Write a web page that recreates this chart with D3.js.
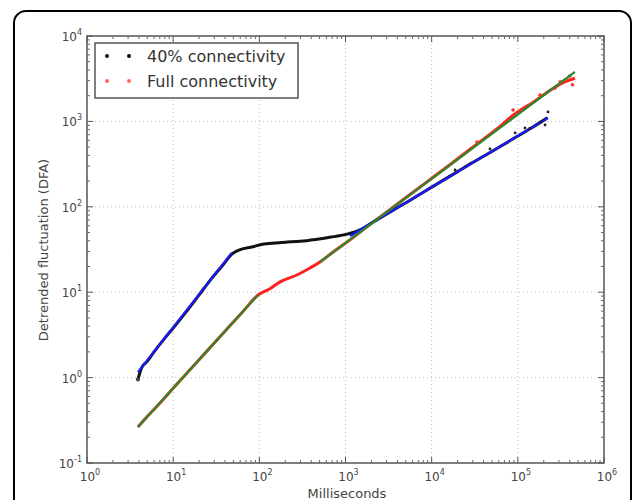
<!DOCTYPE html>
<html>
<head>
<meta charset="utf-8">
<script src="https://cdn.jsdelivr.net/npm/d3@7"></script>
<style>
  body { margin: 0; background: #fff; }
  svg { display: block; font-family: "DejaVu Sans", sans-serif; }
</style>
</head>
<body>
<svg id="chart" width="633" height="500"></svg>
<script>
// 40% connectivity (black dots)
const x40 = [3.9, 4.3, 5, 6, 8, 10, 14, 20, 28, 38, 48, 60, 84, 102, 140, 200, 300, 450, 661, 1013, 1500, 2030, 3500, 6000, 1e4, 2e4, 2.8e4, 4e4, 8e4, 1.5e5, 2.2e5];
const y40 = [0.95, 1.3, 1.55, 2.0, 2.9, 3.8, 5.8, 9.3, 14.5, 21, 28, 31.5, 34, 36, 37.5, 38.5, 39.5, 41.5, 44, 47.5, 54, 65, 90, 124, 170, 258, 318, 390, 590, 860, 1100];
// scattered dots of the 40% series that stick out of the fit
const x40Tail = [1.87e4, 4.75e4, 9.3e4, 1.21e5, 1.38e5, 1.86e5, 2.07e5, 2.24e5];
const y40Tail = [270, 475, 733, 837, 835, 985, 907, 1290];

// full connectivity (red dots)
const xFull = [3.9, 5, 7, 10, 15, 20, 30, 45, 65, 96, 133, 174, 273, 387, 506, 700, 1127, 2000, 4000, 8000, 1.5e4, 3e4, 6e4, 8.8e4, 1.6e5, 2.5e5, 3.5e5, 4.6e5];
const yFull = [0.264, 0.35, 0.5, 0.75, 1.18, 1.62, 2.55, 4.0, 6.0, 9.2, 11.0, 13.2, 15.9, 19.2, 22.6, 29, 41, 64, 108, 182, 292, 500, 850, 1180, 1750, 2400, 2900, 3200];
const xFullTail = [3.36e4, 8.8e4, 1.81e5, 2.7e5, 3.1e5, 3.5e5, 4.0e5, 4.3e5];
const yFullTail = [573, 1360, 2030, 2455, 2900, 3050, 3400, 2690];

// fitted segments
const blueFits = [
  [[3.9, 1.16], [48, 29]],
  [[1127, 45.5], [2.24e5, 1100]]
];
const greenFits = [
  [[3.9, 0.264], [96.5, 9.27]],
  [[506, 22.6], [4.6e5, 3790]]
];

const xTicks = [1, 10, 100, 1e3, 1e4, 1e5, 1e6];
const yTicks = [0.1, 1, 10, 100, 1e3, 1e4];
const legendLabels = ["40% connectivity", "Full connectivity"];
const legendColors = ["#111", "#f66"];

const svg = d3.select("#chart");

// outer rounded frame
svg.append("rect")
  .attr("x", 14).attr("y", 11)
  .attr("width", 617).attr("height", 530)
  .attr("rx", 12)
  .attr("fill", "none")
  .attr("stroke", "#000")
  .attr("stroke-width", 2);

const x = d3.scaleLog().domain([1, 1e6]).range([87, 604]);
const y = d3.scaleLog().domain([0.1, 1e4]).range([463, 36]);

// grid
const grid = svg.append("g");
xTicks.slice(1, -1).forEach(t => {
  grid.append("line")
    .attr("x1", x(t)).attr("x2", x(t)).attr("y1", 36).attr("y2", 463)
    .attr("stroke", "#bbb").attr("stroke-width", 1).attr("stroke-dasharray", "1,3");
});
yTicks.slice(1, -1).forEach(t => {
  grid.append("line")
    .attr("x1", 87).attr("x2", 604).attr("y1", y(t)).attr("y2", y(t))
    .attr("stroke", "#bbb").attr("stroke-width", 1).attr("stroke-dasharray", "1,3");
});

// data curves (dense dots render as a thick line)
const line = d3.line().x(d => x(d[0])).y(d => y(d[1])).curve(d3.curveMonotoneX);

const d40 = x40.map((v, i) => [v, y40[i]]);
const dFull = xFull.map((v, i) => [v, yFull[i]]);

svg.append("path").datum(dFull)
  .attr("d", line).attr("fill", "none")
  .attr("stroke", "#f22").attr("stroke-width", 3);
svg.append("path").datum(d40)
  .attr("d", line).attr("fill", "none")
  .attr("stroke", "#111").attr("stroke-width", 3);

svg.selectAll(".tailFull")
  .data(xFullTail.map((v, i) => [v, yFullTail[i]]))
  .enter().append("circle")
  .attr("cx", d => x(d[0])).attr("cy", d => y(d[1]))
  .attr("r", 1.8).attr("fill", "#f33");

// first black dot, visible below the blue fit
svg.append("circle")
  .attr("cx", x(x40[0])).attr("cy", y(y40[0]))
  .attr("r", 2).attr("fill", "#444");

// fits
const fitLine = d3.line().x(d => x(d[0])).y(d => y(d[1]));
blueFits.forEach(seg => {
  svg.append("path").datum(seg).attr("d", fitLine)
    .attr("stroke", "#1a1aff").attr("stroke-width", 2.2).attr("fill", "none");
});
greenFits.forEach(seg => {
  svg.append("path").datum(seg).attr("d", fitLine)
    .attr("stroke", "#2a8a2a").attr("stroke-width", 2.2).attr("fill", "none");
});

svg.selectAll(".tail40")
  .data(x40Tail.map((v, i) => [v, y40Tail[i]]))
  .enter().append("circle")
  .attr("cx", d => x(d[0])).attr("cy", d => y(d[1]))
  .attr("r", 1.4).attr("fill", "#222");

// axes frame and ticks (all inside)
const frame = svg.append("g");
frame.append("rect")
  .attr("x", 87).attr("y", 36).attr("width", 517).attr("height", 427)
  .attr("fill", "none").attr("stroke", "#555").attr("stroke-width", 1.5);

function minorTicks(domain) {
  const out = [];
  for (let e = Math.log10(domain[0]); e < Math.log10(domain[1]); e++) {
    for (let k = 2; k <= 9; k++) out.push(k * Math.pow(10, e));
  }
  return out;
}

minorTicks(x.domain()).forEach(t => {
  frame.append("line").attr("x1", x(t)).attr("x2", x(t)).attr("y1", 463).attr("y2", 460)
    .attr("stroke", "#666").attr("stroke-width", 1);
  frame.append("line").attr("x1", x(t)).attr("x2", x(t)).attr("y1", 36).attr("y2", 39)
    .attr("stroke", "#666").attr("stroke-width", 1);
});
minorTicks(y.domain()).forEach(t => {
  frame.append("line").attr("x1", 87).attr("x2", 90).attr("y1", y(t)).attr("y2", y(t))
    .attr("stroke", "#666").attr("stroke-width", 1);
  frame.append("line").attr("x1", 604).attr("x2", 601).attr("y1", y(t)).attr("y2", y(t))
    .attr("stroke", "#666").attr("stroke-width", 1);
});
xTicks.forEach(t => {
  frame.append("line").attr("x1", x(t)).attr("x2", x(t)).attr("y1", 463).attr("y2", 457)
    .attr("stroke", "#555").attr("stroke-width", 1);
  frame.append("line").attr("x1", x(t)).attr("x2", x(t)).attr("y1", 36).attr("y2", 42)
    .attr("stroke", "#555").attr("stroke-width", 1);
});
yTicks.forEach(t => {
  frame.append("line").attr("x1", 87).attr("x2", 93).attr("y1", y(t)).attr("y2", y(t))
    .attr("stroke", "#555").attr("stroke-width", 1);
  frame.append("line").attr("x1", 604).attr("x2", 598).attr("y1", y(t)).attr("y2", y(t))
    .attr("stroke", "#555").attr("stroke-width", 1);
});

// tick labels
function powLabel(sel, t) {
  const e = Math.round(Math.log10(t));
  sel.append("tspan").text("10");
  sel.append("tspan").attr("dy", -6).attr("font-size", 8).text(e);
}
xTicks.forEach(t => {
  const txt = svg.append("text")
    .attr("x", x(t) + 3).attr("y", 481)
    .attr("text-anchor", "middle")
    .attr("font-size", 12).attr("fill", "#444");
  powLabel(txt, t);
});
yTicks.forEach(t => {
  const txt = svg.append("text")
    .attr("x", 82).attr("y", y(t) + 5)
    .attr("text-anchor", "end")
    .attr("font-size", 12).attr("fill", "#444");
  powLabel(txt, t);
});

// axis titles
svg.append("text")
  .attr("x", 347).attr("y", 498)
  .attr("text-anchor", "middle")
  .attr("font-size", 13).attr("fill", "#444")
  .text("Milliseconds");
svg.append("text")
  .attr("transform", "translate(48,250) rotate(-90)")
  .attr("text-anchor", "middle")
  .attr("font-size", 13).attr("fill", "#444")
  .text("Detrended fluctuation (DFA)");

// legend
const legend = svg.append("g");
legend.append("rect")
  .attr("x", 95).attr("y", 43).attr("width", 203).attr("height", 55)
  .attr("fill", "#fff").attr("stroke", "#555").attr("stroke-width", 1.5);
legendLabels.forEach((lab, i) => {
  const ly = 56 + i * 25;
  [107, 129].forEach(cx => {
    legend.append("circle").attr("cx", cx).attr("cy", ly).attr("r", 2)
      .attr("fill", legendColors[i]);
  });
  legend.append("text")
    .attr("x", 147).attr("y", ly + 6)
    .attr("font-size", 16).attr("fill", "#333")
    .text(lab);
});
</script>
</body>
</html>
